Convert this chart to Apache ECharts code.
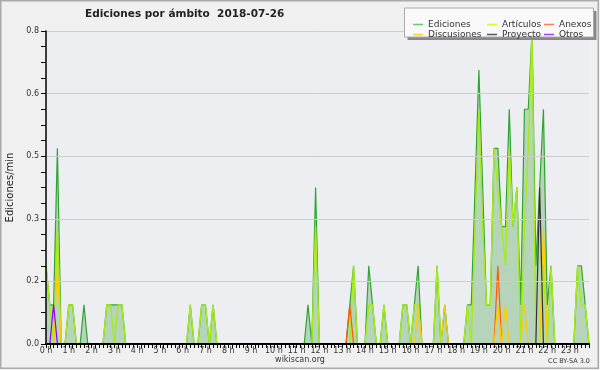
<!DOCTYPE html>
<html><head><meta charset="utf-8">
<script src="https://cdn.jsdelivr.net/npm/echarts@6/dist/echarts.min.js"></script>
<style>html,body{margin:0;padding:0;background:#f0f0f0}#c{width:600px;height:370px}</style>
</head><body><div id="c"></div>
<script>
// 10-minute slots, one row per hour
const hourLabels = ['0 h','1 h','2 h','3 h','4 h','5 h','6 h','7 h','8 h','9 h','10 h','11 h',
  '12 h','13 h','14 h','15 h','16 h','17 h','18 h','19 h','20 h','21 h','22 h','23 h'];
const yTicks = [0, 0.16, 0.32, 0.48, 0.64, 0.8];

const ediciones = [
  0.2,0.1,0.1,0.5,0,0,
  0.1,0.1,0,0,0.1,0,
  0,0,0,0,0.1,0.1,
  0.1,0.1,0.1,0,0,0,
  0,0,0,0,0,0,
  0,0,0,0,0,0,
  0,0,0.1,0,0,0.1,
  0.1,0,0.1,0,0,0,
  0,0,0,0,0,0,
  0,0,0,0,0,0,
  0,0,0,0,0,0,
  0,0,0,0.1,0,0.4,
  0,0,0,0,0,0,
  0,0,0.1,0.2,0,0,
  0,0.2,0.1,0,0,0.1,
  0,0,0,0,0.1,0.1,
  0,0.1,0.2,0,0,0,
  0,0.2,0,0.1,0,0,
  0,0,0,0.1,0.1,0.4,
  0.7,0.4,0.1,0.1,0.5,0.5,
  0.3,0.3,0.6,0.3,0.4,0.1,
  0.6,0.6,0.8,0.2,0.4,0.6,
  0.1,0.2,0,0,0,0,
  0,0,0.2,0.2,0.1,0
];
const articulos = [
  0.2,0.1,0,0.3,0,0,
  0.1,0.1,0,0,0,0,
  0,0,0,0,0.1,0.1,
  0,0.1,0.1,0,0,0,
  0,0,0,0,0,0,
  0,0,0,0,0,0,
  0,0,0.1,0,0,0.1,
  0.1,0,0.1,0,0,0,
  0,0,0,0,0,0,
  0,0,0,0,0,0,
  0,0,0,0,0,0,
  0,0,0,0,0,0.3,
  0,0,0,0,0,0,
  0,0,0,0.2,0,0,
  0,0.1,0.1,0,0,0.1,
  0,0,0,0,0.1,0.1,
  0,0.1,0.1,0,0,0,
  0,0.2,0,0,0,0,
  0,0,0,0.1,0,0.3,
  0.6,0.3,0.1,0.1,0.5,0.4,
  0.3,0.2,0.5,0.3,0.4,0,
  0.3,0.5,0.8,0,0,0.2,
  0,0.2,0,0,0,0,
  0,0,0.2,0.1,0.1,0
];
const anexos = new Array(144).fill(0);
anexos[80] = 0.1; anexos[119] = 0.2;
const discusiones = new Array(144).fill(0);
discusiones[3] = 0.2; discusiones[98] = 0.1; discusiones[105] = 0.1;
discusiones[119] = 0.1; discusiones[121] = 0.1; discusiones[126] = 0.1; discusiones[131] = 0.3;
const proyecto = new Array(144).fill(0);
proyecto[130] = 0.4;
const otros = new Array(144).fill(0);
otros[2] = 0.1;

const slots = [];
hourLabels.forEach(h => { for (let m = 0; m < 60; m += 10) slots.push(h + ' ' + m); });

const FONT = 'DejaVu Sans';
const chart = echarts.init(document.getElementById('c'), null, {renderer: 'canvas'});

function line(name, data, color, width, z, extra) {
  return Object.assign({
    name, type: 'line', data, symbol: 'none', z,
    lineStyle: {color, width}, itemStyle: {color}, animation: false
  }, extra || {});
}

const legendText = {fontFamily: FONT, fontSize: 9, lineHeight: 9, color: '#333'};

chart.setOption({
  backgroundColor: '#f0f0f0',
  animation: false,
  title: {
    text: 'Ediciones por ámbito  2018-07-26', left: 80, top: 4,
    textStyle: {fontFamily: FONT, fontSize: 10.5, fontWeight: 'bold', color: '#222'}
  },
  grid: {left: 46, right: 11, top: 31, bottom: 26, containLabel: false, outerBoundsMode: 'none',
    show: true, backgroundColor: '#eceef1', borderWidth: 0},
  xAxis: {
    type: 'category', data: slots, boundaryGap: false, z: 10,
    axisLine: {lineStyle: {color: '#000', width: 2}},
    axisTick: {show: true, interval: 0, length: 4, lineStyle: {color: '#000'}},
    axisLabel: {interval: 5, margin: 3, fontSize: 8, fontFamily: FONT, color: '#333',
      formatter: (v) => v.split(' ').slice(0, 2).join(' ')},
    splitLine: {show: false}
  },
  yAxis: {
    type: 'value', min: yTicks[0], max: yTicks[yTicks.length - 1], interval: yTicks[1], z: 10,
    name: 'Ediciones/min', nameLocation: 'middle', nameGap: 31,
    nameTextStyle: {fontFamily: FONT, fontSize: 10, color: '#222'},
    axisLine: {show: true, lineStyle: {color: '#000', width: 1.5}},
    axisTick: {show: true, length: 5, lineStyle: {color: '#000'}},
    minorTick: {show: true, splitNumber: 4, length: 5, lineStyle: {color: '#000'}},
    splitLine: {show: true, lineStyle: {color: '#cccccc', width: 1}},
    axisLabel: {fontSize: 8, fontFamily: FONT, color: '#333', margin: 7,
      formatter: v => v.toFixed(1)}
  },
  legend: [
    {left: 408, top: 15, orient: 'vertical', itemGap: 1, itemWidth: 10, itemHeight: 1.5, icon: 'rect',
      selectedMode: false, z: 20, textStyle: legendText,
      data: [{name: 'Ediciones', itemStyle: {color: '#66cc66'}}, {name: 'Discusiones', itemStyle: {color: '#ffcc33'}}]},
    {left: 482, top: 15, orient: 'vertical', itemGap: 1, itemWidth: 10, itemHeight: 1.5, icon: 'rect',
      selectedMode: false, z: 20, textStyle: legendText,
      data: [{name: 'Artículos', itemStyle: {color: '#ccff33'}}, {name: 'Proyecto', itemStyle: {color: '#555555'}}]},
    {left: 539, top: 15, orient: 'vertical', itemGap: 1, itemWidth: 10, itemHeight: 1.5, icon: 'rect',
      selectedMode: false, z: 20, textStyle: legendText,
      data: [{name: 'Anexos', itemStyle: {color: '#ff7f50'}}, {name: 'Otros', itemStyle: {color: '#a040ff'}}]}
  ],
  graphic: [
    {type: 'rect', z: 0, silent: true, shape: {x: 0.75, y: 0.75, width: 597.5, height: 367.5},
      style: {fill: 'none', stroke: '#aaaaaa', lineWidth: 1.5}},
    {type: 'rect', z: 15, silent: true, shape: {x: 407.5, y: 11, width: 189, height: 29},
      style: {fill: '#888888'}},
    {type: 'rect', z: 16, silent: true, shape: {x: 404.5, y: 8, width: 189, height: 29},
      style: {fill: '#f9f9f9', stroke: '#aaaaaa', lineWidth: 1}},
    {type: 'text', z: 16, silent: true, left: 'center', top: 356,
      style: {text: 'wikiscan.org', fontFamily: FONT, fontSize: 8, fill: '#333'}},
    {type: 'text', z: 16, silent: true, right: 10, top: 358,
      style: {text: 'CC BY-SA 3.0', fontFamily: FONT, fontSize: 6.5, fill: '#333'}}
  ],
  series: [
    line('Ediciones', ediciones, '#2fa52f', 1.2, 2, {areaStyle: {color: 'rgba(50,150,50,0.42)'}}),
    line('Artículos', articulos, '#a6ea1a', 1.4, 3),
    line('Anexos', anexos, '#ff5a00', 1.2, 4),
    line('Discusiones', discusiones, '#ffcc00', 1.2, 4),
    line('Proyecto', proyecto, '#333333', 1.2, 4),
    line('Otros', otros, '#8800ff', 1.2, 4)
  ]
});
</script></body></html>
